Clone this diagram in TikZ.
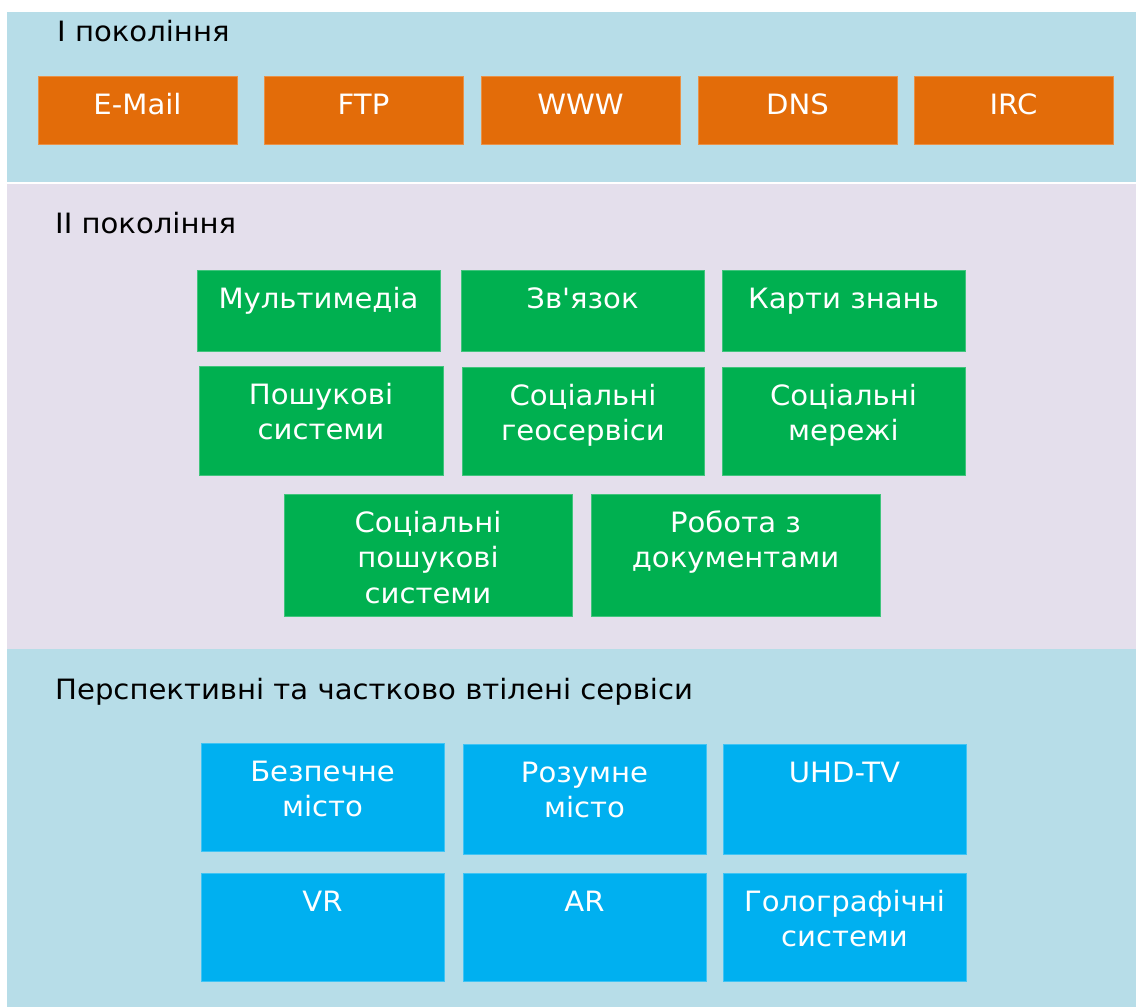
\documentclass[tikz,border=0pt]{standalone}
\usepackage{fontspec}
\setmainfont{DejaVu Sans}[FakeStretch=1.04, Ligatures=TeXOff]
\definecolor{panelblue}{HTML}{B7DDE8}
\definecolor{panellilac}{HTML}{E4DFEC}
\definecolor{genorange}{HTML}{E36C09}
\definecolor{gengreen}{HTML}{00B050}
\definecolor{genblue}{HTML}{00B0F0}
\tikzset{
  obox/.style={fill=genorange, draw=genorange!75!white, line width=0.8pt},
  gbox/.style={fill=gengreen, draw=gengreen!75!white, line width=0.8pt},
  bbox/.style={fill=genblue, draw=genblue!75!white, line width=0.8pt},
  boxtext/.style={text=white, inner sep=0pt, align=center,
    font=\fontsize{28}{35.5}\selectfont},
  heading/.style={text=black, inner sep=0pt, anchor=base west,
    font=\fontsize{28}{34}\selectfont},
}
% service box: name, x1, y1, x2, y2, style, text
\newcommand\svcbox[7]{%
  \node[#6, minimum width={(#4-#2)*1pt}, minimum height={(#5-#3)*1pt},
        inner sep=0pt, outer sep=0pt, anchor=north west] (#1) at (#2,#3) {};
  \node[boxtext, text width={(#4-#2)*1pt}, anchor=base] (#1-t)
        at ([yshift=-38pt]#1.north) {#7};
}
\begin{document}
\begin{tikzpicture}[x=1pt,y=-1pt]
\useasboundingbox (0,0) rectangle (1136,1007);
\fill[white] (0,0) rectangle (1136,1007);
% background bands
\fill[panelblue] (7,12) rectangle (1136,181.5);
\fill[panellilac] (7,183.5) rectangle (1136,649);
\fill[panelblue] (7,649) rectangle (1136,1007);

% first generation
\node[heading] (h1) at (57,41) {I покоління};
\svcbox{email}{38}{76}{237}{144}{obox}{E-Mail}
\svcbox{ftp}{264}{76}{463}{144}{obox}{FTP}
\svcbox{www}{481}{76}{680}{144}{obox}{WWW}
\svcbox{dns}{698}{76}{897}{144}{obox}{DNS}
\svcbox{irc}{914}{76}{1113}{144}{obox}{IRC}

% second generation
\node[heading] (h2) at (55,233) {II покоління};
\svcbox{mm}{197}{270}{440}{351}{gbox}{Мультимедіа}
\svcbox{comm}{461}{270}{704}{351}{gbox}{Зв'язок}
\svcbox{kmap}{722}{270}{965}{351}{gbox}{Карти знань}
\svcbox{search}{199}{366}{443}{475}{gbox}{Пошукові\\системи}
\svcbox{geo}{462}{367}{704}{475}{gbox}{Соціальні\\геосервіси}
\svcbox{snet}{722}{367}{965}{475}{gbox}{Соціальні\\мережі}
\svcbox{ssearch}{284}{494}{572}{616}{gbox}{Соціальні\\пошукові\\системи}
\svcbox{docs}{591}{494}{880}{616}{gbox}{Робота з\\документами}

% prospective services
\node[heading] (h3) at (55,699) {Перспективні та частково втілені сервіси};
\svcbox{safe}{201}{743}{444}{851}{bbox}{Безпечне\\місто}
\svcbox{smart}{463}{744}{706}{854}{bbox}{Розумне\\місто}
\svcbox{uhd}{723}{744}{966}{854}{bbox}{UHD-TV}
\svcbox{vr}{201}{873}{444}{981}{bbox}{VR}
\svcbox{ar}{463}{873}{706}{981}{bbox}{AR}
\svcbox{holo}{723}{873}{966}{981}{bbox}{Голографічні\\системи}
\end{tikzpicture}
\end{document}
